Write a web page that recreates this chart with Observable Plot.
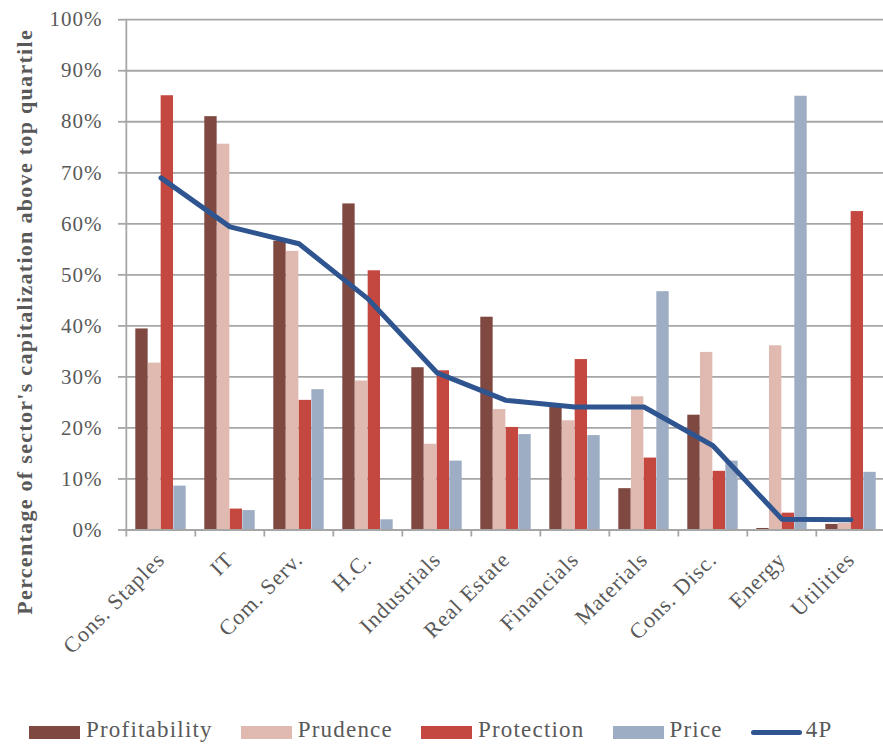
<!DOCTYPE html>
<html>
<head>
<meta charset="utf-8">
<script src="https://cdn.jsdelivr.net/npm/d3@7"></script>
<script src="https://cdn.jsdelivr.net/npm/@observablehq/plot@0.6"></script>
<style>
  html, body { margin: 0; padding: 0; background: #fff; }
  #wrap { position: relative; width: 883px; height: 746px; overflow: hidden; }
  #chart svg text { letter-spacing: 1px; }
  #chart svg g[aria-label="text"]:last-of-type text { letter-spacing: 1.3px; }
  #legend { position: absolute; left: 0; top: 712px; height: 40px; width: 883px;
    display: flex; align-items: center; padding-left: 29px; box-sizing: border-box;
    font-family: "Liberation Serif", serif; font-size: 23px; letter-spacing: 1.2px; color: #595959; }
  .item { display: flex; align-items: center; margin-right: 28px; }
  .sw { width: 51px; height: 13px; margin-right: 6px; }
  .ln { width: 51px; height: 5px; border-radius: 3px; margin-right: 4px; }
  .lbl { position: relative; top: -2px; }
</style>
</head>
<body>
<div id="wrap">
  <div id="chart"></div>
  <div id="legend"></div>
</div>
<script>
const sectors = ["Cons. Staples","IT","Com. Serv.","H.C.","Industrials","Real Estate","Financials","Materials","Cons. Disc.","Energy","Utilities"];
const seriesNames = ["Profitability","Prudence","Protection","Price"];
const profitability = [39.4, 81.0, 56.6, 63.9, 31.8, 41.7, 24.0, 8.1, 22.5, 0.3, 1.1];
const prudence      = [32.7, 75.6, 54.6, 29.2, 16.8, 23.6, 21.4, 26.1, 34.8, 36.1, 1.3];
const protection    = [85.1, 4.1, 25.4, 50.8, 31.2, 20.1, 33.4, 14.1, 11.5, 3.3, 62.4];
const price         = [8.6, 3.8, 27.5, 2.0, 13.5, 18.7, 18.5, 46.7, 13.5, 85.0, 11.3];
const fourP         = [69.0, 59.4, 56.1, 45.3, 30.8, 25.4, 24.1, 24.1, 16.5, 2.1, 2.0];
const yTicks = [0,10,20,30,40,50,60,70,80,90,100];
const yTitle = "Percentage of sector's capitalization above top quartile";

const colors = {Profitability: "#7F4841", Prudence: "#E0BAB0", Protection: "#C4483F", Price: "#9DADC4", "4P": "#2F5590"};
const gridColor = "#A6A6A6";
const textColor = "#595959";

const W = 883, H = 700, mL = 124, mR = -3.5, mT = 19.2, mB = H - 529.5;
const bw = (W - mL - mR) / sectors.length;
const pad = 9.3, barW = (bw - 2 * pad) / 4;

const seriesData = [profitability, prudence, protection, price];
const bars = seriesNames.map((name, k) => Plot.barY(
  sectors.map((s, i) => ({sector: s, value: seriesData[k][i]})),
  {x: "sector", y: "value", fill: colors[name],
   insetLeft: pad + k * barW, insetRight: bw - pad - (k + 1) * barW}
));
const lineData = sectors.map((s, i) => ({sector: s, value: fourP[i]}));

const chart = Plot.plot({
  width: W, height: H,
  marginLeft: mL, marginRight: mR, marginTop: mT, marginBottom: mB,
  style: {fontFamily: "Liberation Serif, serif", fontSize: "21px", color: textColor, background: "white", overflow: "visible"},
  x: {type: "band", domain: sectors, padding: 0, axis: null},
  y: {domain: [0, 100], axis: null},
  marks: [
    Plot.gridY(yTicks.slice(1), {stroke: gridColor, strokeOpacity: 1, strokeWidth: 1.8}),
    ...bars,
    Plot.ruleY([0], {stroke: gridColor, strokeWidth: 1.8}),
    Plot.ruleX(sectors.slice(1), {x: d => d, dx: -bw / 2, stroke: gridColor, strokeWidth: 1.8, insetTop: 529.5 - mT, insetBottom: -7}),
    Plot.ruleX([sectors[0]], {x: d => d, dx: -bw / 2, stroke: gridColor, strokeWidth: 1.8, insetBottom: -7}),
    Plot.axisY(yTicks, {tickSize: 6, tickPadding: 16, tickFormat: d => d + "%", label: null, stroke: gridColor, strokeWidth: 1.8, fill: textColor, fontSize: 21}),
    Plot.text(sectors, {x: d => d, frameAnchor: "bottom", rotate: -45, textAnchor: "end", lineAnchor: "bottom", dx: 5, dy: 31, fill: textColor, fontSize: 22}),
    Plot.lineY(lineData, {x: "sector", y: "value", stroke: colors["4P"], strokeWidth: 5, strokeLinecap: "round", strokeLinejoin: "round"}),
    Plot.text([yTitle], {frameAnchor: "left", textAnchor: "middle", lineAnchor: "middle", rotate: -90, dx: -100, dy: 47, fill: textColor, fontSize: 22, fontWeight: "bold"})
  ]
});
document.getElementById("chart").appendChild(chart);

const legend = document.getElementById("legend");
for (const name of [...seriesNames, "4P"]) {
  const item = document.createElement("div");
  item.className = "item";
  const sw = document.createElement("div");
  sw.className = name === "4P" ? "ln" : "sw";
  sw.style.background = colors[name];
  const lbl = document.createElement("span");
  lbl.className = "lbl";
  lbl.textContent = name;
  item.appendChild(sw);
  item.appendChild(lbl);
  legend.appendChild(item);
}
</script>
</body>
</html>
